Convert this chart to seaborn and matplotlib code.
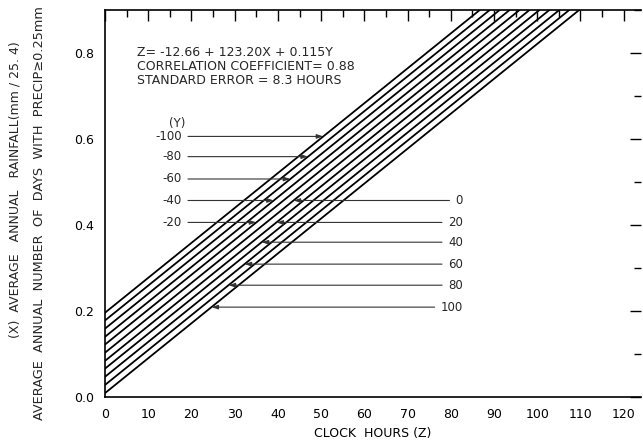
import numpy as np
import pandas as pd
import matplotlib
matplotlib.use("Agg")
import matplotlib.pyplot as plt
import seaborn as sns
from matplotlib.ticker import MultipleLocator, FormatStrFormatter

# ---- data ----
y_values = [-100, -80, -60, -40, -20, 0, 20, 40, 60, 80, 100]
# X (rainfall) where each Y-line meets Z = 0
x_at_z0 = [0.196, 0.178, 0.159, 0.140, 0.122, 0.103, 0.084, 0.066, 0.047, 0.028, 0.009]
# Z (clock hours) where each Y-line reaches the top of the plot (X = 0.9)
z_at_top = [86.7, 89.0, 91.3, 93.6, 95.9, 98.2, 100.5, 102.8, 105.1, 107.4, 109.7]
x_top = 0.9

# label heights (X) of the Y annotations
left_labels = ["-100", "-80", "-60", "-40", "-20"]
left_label_x = [0.606, 0.559, 0.507, 0.457, 0.406]
right_labels = ["0", "20", "40", "60", "80", "100"]
right_label_x = [0.457, 0.406, 0.360, 0.309, 0.260, 0.209]

equation_lines = ["Z= -12.66 + 123.20X + 0.115Y",
                  "CORRELATION COEFFICIENT= 0.88",
                  "STANDARD ERROR = 8.3 HOURS"]

# ---- long-form table ----
rows = []
for yv, x0, zt in zip(y_values, x_at_z0, z_at_top):
    rows.append({"Z": 0.0, "X": x0, "Y": yv})
    rows.append({"Z": zt, "X": x_top, "Y": yv})
df = pd.DataFrame(rows)

sns.set_theme(style="white")
plt.rcParams["font.family"] = ["DejaVu Sans"]

fig = plt.figure(figsize=(6.43, 4.46), dpi=100)
ax = fig.add_axes([105 / 643, 49 / 446, 536 / 643, 387 / 446])

sns.lineplot(data=df, x="Z", y="X", units="Y", estimator=None,
             color="black", linewidth=1.3, ax=ax, legend=False)

ax.set_xlim(0, 124)
ax.set_ylim(0, 0.9)

ax.xaxis.set_major_locator(MultipleLocator(10))
ax.xaxis.set_minor_locator(MultipleLocator(5))
ax.yaxis.set_major_locator(MultipleLocator(0.2))
ax.yaxis.set_minor_locator(MultipleLocator(0.1))
ax.yaxis.set_major_formatter(FormatStrFormatter("%.1f"))

ax.tick_params(which="both", direction="in", top=True, right=True,
               color="black", width=1.0, labelsize=9, labelcolor="black")
ax.tick_params(which="major", length=8, pad=8)
ax.tick_params(which="minor", length=5)

for s in ["left", "bottom", "top"]:
    ax.spines[s].set_color("black")
    ax.spines[s].set_linewidth(1.2)
ax.spines["right"].set_visible(False)

ax.set_xlabel("CLOCK  HOURS (Z)", fontsize=9, labelpad=4, color="black")
ax.set_ylabel("")

fig.text(15 / 643, 1 - 190 / 446, "(X)  AVERAGE   ANNUAL   RAINFALL(mm / 25. 4)",
         rotation=90, ha="center", va="center", fontsize=9)
fig.text(40 / 643, 1 - 213 / 446,
         "AVERAGE  ANNUAL  NUMBER  OF  DAYS  WITH  PRECIP\u22650.25mm",
         rotation=90, ha="center", va="center", fontsize=9.3)

# equation block
for i, t in enumerate(equation_lines):
    ax.text(7.4, 0.800 - i * 0.032, t, fontsize=9, ha="left", va="center")

ax.text(16.6, 0.637, "(Y)", fontsize=8.5, ha="center", va="center")


def z_on_line(idx, xval):
    return np.interp(xval, [x_at_z0[idx], x_top], [0.0, z_at_top[idx]])


arrow_kw = dict(arrowstyle="-|>,head_length=0.45,head_width=0.15",
                color="#333333", lw=0.8, shrinkA=2, shrinkB=0)

for lab, xv in zip(left_labels, left_label_x):
    idx = y_values.index(int(lab))
    ax.annotate(lab, xy=(z_on_line(idx, xv), xv), xytext=(17.8, xv),
                ha="right", va="center", fontsize=8.5, arrowprops=arrow_kw)

for lab, xv in zip(right_labels, right_label_x):
    idx = y_values.index(int(lab))
    ax.annotate(lab, xy=(z_on_line(idx, xv), xv), xytext=(82.8, xv),
                ha="right", va="center", fontsize=8.5, arrowprops=arrow_kw)

fig.savefig("out.png", dpi=100)
